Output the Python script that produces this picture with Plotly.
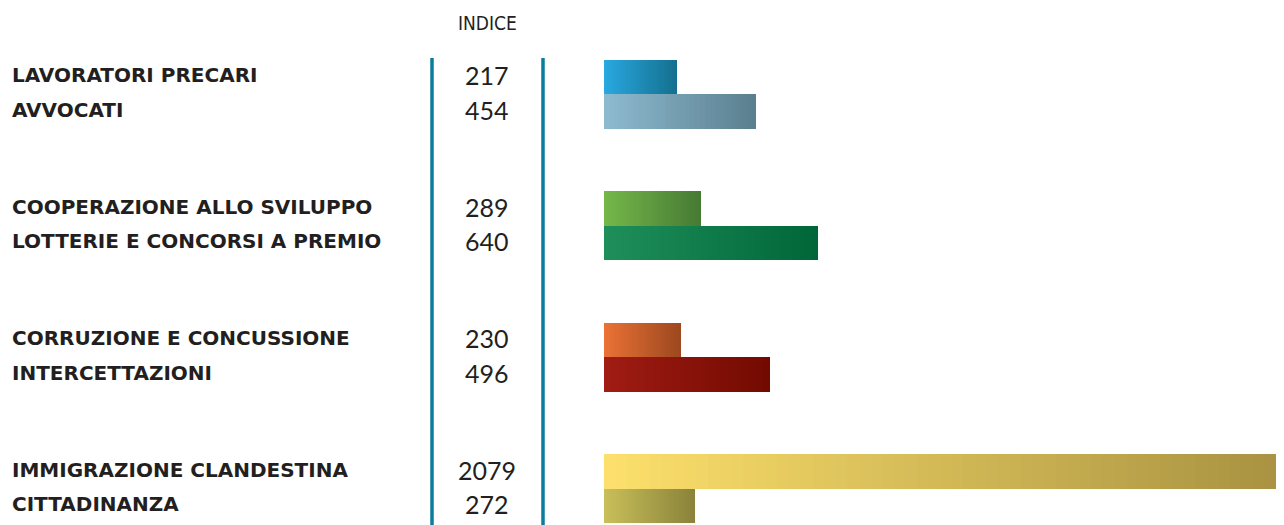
import plotly.graph_objects as go

categories = [
    "LAVORATORI PRECARI", "AVVOCATI",
    "COOPERAZIONE ALLO SVILUPPO", "LOTTERIE E CONCORSI A PREMIO",
    "CORRUZIONE E CONCUSSIONE", "INTERCETTAZIONI",
    "IMMIGRAZIONE CLANDESTINA", "CITTADINANZA",
]
values = [217, 454, 289, 640, 230, 496, 2079, 272]
groups = [0, 0, 1, 1, 2, 2, 3, 3]
color_start = ["#29a9e1", "#8ebbd0", "#76b84a", "#1f8f5a", "#ec7236", "#a01c14", "#fde06c", "#c9bf5a"]
color_end = ["#14708f", "#5a7f8f", "#467a34", "#006639", "#9c481f", "#720a00", "#a69040", "#8a833a"]
header = "INDICE"

# page body has an 8px margin: the figure sits at (8, 8) in the window
OFF = 8
W, H = 1284, 525 - OFF


def px_x(p):
    return (p - OFF) / W


def px_y(p):
    return 1 - (p - OFF) / H


GROUP_STEP = 3.81
positions = []
seen = {}
for g in groups:
    i = seen.get(g, 0)
    seen[g] = i + 1
    positions.append(g * GROUP_STEP + i)

unit = 34.5
y0 = -(77 - OFF) / unit
y1 = y0 + H / unit


def hex2rgb(h):
    h = h.lstrip("#")
    return tuple(int(h[k:k + 2], 16) for k in (0, 2, 4))


def mix(c1, c2, t):
    a, b = hex2rgb(c1), hex2rgb(c2)
    return "rgb(%d,%d,%d)" % tuple(round(a[k] + (b[k] - a[k]) * t) for k in range(3))


fig = go.Figure()
NSEG = 60
for cat, v, pos, cs, ce in zip(categories, values, positions, color_start, color_end):
    seg = v / NSEG
    fig.add_trace(go.Bar(
        orientation="h",
        y=[pos] * NSEG,
        x=[seg] * NSEG,
        base=[seg * k for k in range(NSEG)],
        width=1.0,
        marker=dict(color=[mix(cs, ce, (k + 0.5) / NSEG) for k in range(NSEG)], line=dict(width=0)),
        hoverinfo="skip",
        showlegend=False,
        name=cat,
    ))
    fig.add_annotation(
        x=px_x(10), xref="paper", xanchor="left",
        y=pos - 0.05, yref="y", yanchor="middle",
        text=cat, showarrow=False,
        font=dict(family="DejaVu Sans", size=20, color="#231f20", weight="bold"),
    )
    fig.add_annotation(
        x=px_x(487), xref="paper", xanchor="center",
        y=pos - 0.05, yref="y", yanchor="middle",
        text=str(v), showarrow=False,
        font=dict(family="Lato", size=25, color="#231f20"),
    )

fig.add_annotation(
    x=px_x(487), xref="paper", xanchor="center",
    y=px_y(23), yref="paper", yanchor="middle",
    text=header, showarrow=False,
    font=dict(family="DejaVu Sans Condensed", size=19, color="#231f20"),
)

for xp in (432, 543):
    fig.add_shape(type="line", xref="paper", yref="paper",
                  x0=px_x(xp), x1=px_x(xp), y0=0, y1=px_y(58),
                  line=dict(color="#0a7d9c", width=3.5))

scale = 0.3345  # px per unit
fig.update_layout(
    width=W, height=H,
    margin=dict(l=0, r=0, t=0, b=0),
    paper_bgcolor="white", plot_bgcolor="white",
    barmode="overlay", bargap=0,
    xaxis=dict(domain=[px_x(604), 1], range=[0, (W + OFF - 604) / scale], visible=False),
    yaxis=dict(range=[y1, y0], visible=False),
)

fig.write_html("out.html")
